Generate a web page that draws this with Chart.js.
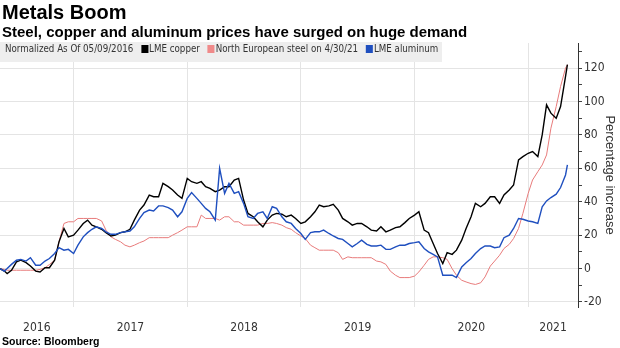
<!DOCTYPE html>
<html><head><meta charset="utf-8">
<script src="https://cdn.jsdelivr.net/npm/chart.js@4"></script>
<style>
html,body{margin:0;padding:0;background:#fff;}
#wrap{position:relative;width:620px;height:348px;overflow:hidden;background:#fff;}
#c{position:absolute;left:0;top:0;}
.t{position:absolute;left:2px;white-space:nowrap;color:#000;}
#title{top:0px;font:bold 20px "Liberation Sans",Arial,sans-serif;line-height:24px;}
#sub{top:23px;font:bold 15px "Liberation Sans",Arial,sans-serif;line-height:18px;}
#legend{position:absolute;left:0;top:42px;width:442px;height:20px;background:#eeeeee;color:#333;white-space:nowrap;}
#legend .in{position:absolute;left:5px;top:0;line-height:20px;font:11px "DejaVu Sans Condensed","DejaVu Sans",sans-serif;transform:scaleX(0.88);transform-origin:0 50%;}
#legend .sq{display:inline-block;width:8px;height:8px;margin:0 1px 0 9px;vertical-align:-1px;}
#src{position:absolute;left:2px;top:335px;font:bold 10.5px "Liberation Sans",Arial,sans-serif;color:#000;line-height:12px;}
</style>
</head>
<body>
<div id="wrap">
<canvas id="c" width="620" height="348"></canvas>
<div id="title" class="t">Metals Boom</div>
<div id="sub" class="t">Steel, copper and aluminum prices have surged on huge demand</div>
<div id="legend"><span class="in">Normalized As Of 05/09/2016<span class="sq" style="background:#000"></span>LME copper<span class="sq" style="background:#f08a8a"></span>North European steel on 4/30/21<span class="sq" style="background:#1f4fbf"></span>LME aluminum</span></div>
<div id="src">Source: Bloomberg</div>
</div>
<script>
const dates = [
'2016-05-09','2016-05-23','2016-06-01','2016-06-15','2016-07-01','2016-07-15','2016-08-01','2016-08-15','2016-09-01','2016-09-15','2016-10-01','2016-10-15','2016-11-01','2016-11-15','2016-12-01','2016-12-15',
'2017-01-01','2017-01-15','2017-02-01','2017-02-15','2017-03-01','2017-03-15','2017-04-01','2017-04-15','2017-05-01','2017-05-15','2017-06-01','2017-06-15','2017-07-01','2017-07-15','2017-08-01','2017-08-15','2017-09-01','2017-09-15','2017-10-01','2017-10-15','2017-11-01','2017-11-15','2017-12-01','2017-12-15',
'2018-01-01','2018-01-15','2018-02-01','2018-02-15','2018-03-01','2018-03-15','2018-04-01','2018-04-15','2018-05-01','2018-05-15','2018-06-01','2018-06-15','2018-07-01','2018-07-15','2018-08-01','2018-08-15','2018-09-01','2018-09-15','2018-10-01','2018-10-15','2018-11-01','2018-11-15','2018-12-01','2018-12-15',
'2019-01-01','2019-01-15','2019-02-01','2019-02-15','2019-03-01','2019-03-15','2019-04-01','2019-04-15','2019-05-01','2019-05-15','2019-06-01','2019-06-15','2019-07-01','2019-07-15','2019-08-01','2019-08-15','2019-09-01','2019-09-15','2019-10-01','2019-10-15','2019-11-01','2019-11-15','2019-12-01','2019-12-15',
'2020-01-01','2020-01-15','2020-02-01','2020-02-15','2020-03-01','2020-03-15','2020-04-01','2020-04-15','2020-05-01','2020-05-15','2020-06-01','2020-06-15','2020-07-01','2020-07-15','2020-08-01','2020-08-15','2020-09-01','2020-09-15','2020-10-01','2020-10-15','2020-11-01','2020-11-15','2020-12-01','2020-12-15',
'2021-01-01','2021-01-15','2021-02-01','2021-02-15','2021-03-01','2021-03-15','2021-04-01','2021-04-15','2021-05-01','2021-05-07'
];
const copper = [
0,-1.5,-3,-1,4,5,3.5,1.5,-1.5,-2,0.5,0.5,5,16,24,19,
20,23,27,29,26,25,23.5,21.5,19.5,20,21.5,22,23.5,29,35,38,44,43,43,51,49,47,44,42,
54,52,51,52,49,48,46,47,49,49,53,54,41,33,31,28,25,29,32,33,32.5,31,32,30,
27,28,31,34,38,37,37.5,38.5,35,30,28,26,27,27,25,23,22.5,25,22,23,24.5,25,27.5,30,
32,34,23,21.5,15,9,3,9.5,8.5,11,17,24,31,39,37,39,43,43,39,44,47,50,65,67,
69,70,67,80,98,93,90,97,115,122
];
const steel = [
0,-0.5,-1,-1,-1,-1,-1,-1,-1,-0.5,0.5,2.4,5,16,27,28,
28,30,30,30,30,30,28.5,23,19,17.5,16,14,13,14,15.5,16.5,18.5,18.5,18.5,18.5,18.5,20,21.5,23,
25,25,25,32,30,30,30,29,31,31,28,28,26,26,26,26,27,27,27.5,27,26,24.5,23.5,21.5,
19.5,18,14,12.5,11,11,11,11,9.5,5.5,7,6.5,6.5,6.5,6.5,6.5,4.5,4,2.5,-1.5,-4,-5.4,-5.4,-5.4,
-4.5,-2,2,5.5,7,7,6.5,5.5,0,-4,-7,-8,-9,-9.5,-8.5,-5,1.5,4.5,8,12,14.5,18,24,33,
45,53,58,62,68,84,97,109,120,122
];
const aluminum = [
0,-1.5,0,2.5,5,5.5,4.5,6.5,2,2,4.5,6,9,12.5,11,11.5,
9,14,19,21.5,23.5,25,24,22,20.5,20.5,21.5,22,22.5,25,30,33.5,35,34.5,37.5,37.5,36.5,35,31,34,
42,45.5,42,39,36,34,29,60,45,51,45,46,39,31,30,33,34,30,37,36,31,28,27,24,
21,17.5,21.5,22,22,23,21,19.5,18,17.5,15,13,15,17,14.5,13.5,13.5,14,11.5,11.5,13,14,14,15,
15.5,16,12,10,8.5,7,-4,-4,-4,-5.4,1,3.5,6,9,12,13.5,13.5,12.5,13,18.5,20,24,30,29.5,
28.5,28,27,37,40.5,42.5,44.5,48.5,56,62
];
const yearLabels = ['2016','2017','2018','2019','2020','2021'];
const axisStart = '2016-05-09';
const axisEnd = '2021-06-10';
const yMin = -23, yMax = 135;

function toYear(s){
  const [y,m,d] = s.split('-').map(Number);
  const start = Date.UTC(y,0,1), end = Date.UTC(y+1,0,1);
  return y + (Date.UTC(y,m-1,d) - start)/(end-start);
}
const xMin = toYear(axisStart), xMax = toYear(axisEnd);
const boundaries = yearLabels.map(Number).filter(y => y > xMin && y < xMax);
const mids = yearLabels.map(l => { const y = Number(l); const lo = Math.max(y, xMin), hi = Math.min(y+1, xMax); return {v:(lo+hi)/2, l}; });
const near = (a,b) => Math.abs(a-b) < 1e-6;
const xs = dates.map(toYear);
const pts = arr => arr.map((v,i) => ({x: xs[i], y: v}));

const narrow = '"DejaVu Sans Condensed","DejaVu Sans",sans-serif';

new Chart(document.getElementById('c'), {
  type: 'line',
  data: {
    datasets: [
      {label:'LME aluminum', data: pts(aluminum), borderColor:'#1f4fbf', borderWidth:1.4, pointRadius:0, order:0},
      {label:'LME copper', data: pts(copper), borderColor:'#000000', borderWidth:1.4, pointRadius:0, order:1},
      {label:'North European steel on 4/30/21', data: pts(steel), borderColor:'#e87b7b', borderWidth:1, pointRadius:0, order:2}
    ]
  },
  options: {
    responsive:false, animation:false, devicePixelRatio:1,
    layout:{padding:{top:43,left:0,right:0,bottom:13}},
    plugins:{legend:{display:false}, tooltip:{enabled:false}, title:{display:false}},
    scales:{
      x:{
        type:'linear', min:xMin, max:xMax,
        afterBuildTicks: s => { s.ticks = boundaries.concat(mids.map(m=>m.v)).sort((a,b)=>a-b).map(v=>({value:v})); },
        grid:{ color: c => (c.tick && boundaries.some(b=>near(b,c.tick.value))) ? '#e4e4e4' : 'rgba(0,0,0,0)', drawTicks:false, lineWidth:1 },
        border:{display:false},
        ticks:{ autoSkip:false, maxRotation:0, minRotation:0, padding:14, color:'#333', font:{family:narrow, size:12},
          callback: v => { const m = mids.find(m=>near(m.v,v)); return m ? m.l : ''; } },
        afterFit: s => { s.height = 28; }
      },
      y:{
        position:'right', min:yMin, max:yMax,
        afterBuildTicks: s => { const t=[]; for(let v=-20; v<=130; v+=10) t.push({value:v}); s.ticks = t; },
        grid:{ color: c => (c.tick && c.tick.value % 20 === 0) ? '#e4e4e4' : 'rgba(0,0,0,0)', tickColor:'#444', tickLength:4, drawTicks:true, lineWidth:1 },
        border:{display:true, color:'#333', width:1},
        ticks:{ autoSkip:false, padding:2, color:'#333', font:{family:narrow, size:12},
          callback: v => (v % 20 === 0) ? String(v) : '' },
        title:{display:true, text:'Percentage increase', color:'#333', font:{family:'"Liberation Sans",Arial,sans-serif', size:13}, padding:{top:3,bottom:0}},
        afterFit: s => { s.width = 42; }
      }
    }
  }
});
</script>
</body></html>
